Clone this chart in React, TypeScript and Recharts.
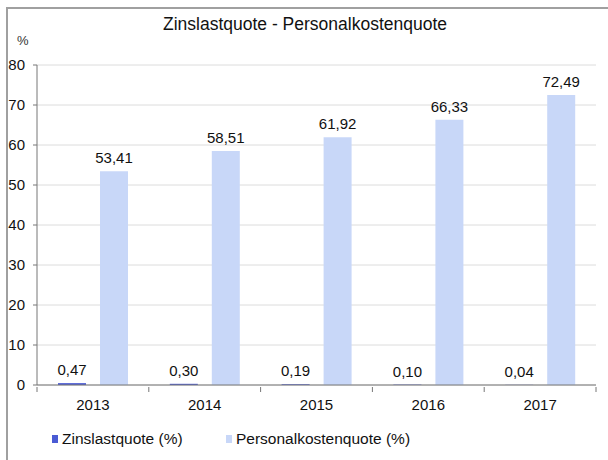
import { BarChart, Bar, XAxis, YAxis, CartesianGrid, Legend, LabelList } from "recharts"

const years = ["2013", "2014", "2015", "2016", "2017"]
const zinslastquote = [0.47, 0.3, 0.19, 0.1, 0.04]
const personalkostenquote = [53.41, 58.51, 61.92, 66.33, 72.49]
const yTicks = [0, 10, 20, 30, 40, 50, 60, 70, 80]

const data = years.map((year, i) => ({
  year,
  zins: zinslastquote[i],
  personal: personalkostenquote[i],
}))

const fmt = (v: number) => v.toFixed(2).replace(".", ",")

function YearTick(props: any) {
  const { x, y, payload, index, visibleTicksCount } = props
  const half = payload.offset ?? 55.8
  return (
    <g>
      <line x1={x - half} y1={y - 6} x2={x - half} y2={y - 1} stroke="#777" />
      {index === visibleTicksCount - 1 && (
        <line x1={x + half} y1={y - 6} x2={x + half} y2={y - 1} stroke="#777" />
      )}
      <text x={x} y={y + 6} dy="0.71em" textAnchor="middle" fontSize={15} fill="#111">
        {payload.value}
      </text>
    </g>
  )
}

// legend item x positions, keyed by series
const legendX: Record<string, number> = { zins: 52, personal: 226 }

function renderLegend(props: any) {
  const items = props.payload || []
  return (
    <div style={{ position: "relative", height: 20 }}>
      {items.map((item: any) => (
        <div
          key={item.value}
          style={{
            position: "absolute",
            left: legendX[item.dataKey] ?? 0,
            top: 0,
            display: "flex",
            alignItems: "center",
            fontSize: 15.5,
            color: "#111",
          }}
        >
          <span style={{ width: 6, height: 8, background: item.color, marginRight: 4, display: "inline-block" }} />
          {item.value}
        </div>
      ))}
    </div>
  )
}

export default function App() {
  return (
    <div
      style={{
        position: "absolute",
        left: 0,
        top: 0,
        width: 608,
        height: 460,
        background: "#fff",
        fontFamily: "'Liberation Sans', Arial, sans-serif",
      }}
    >
      <div
        style={{
          position: "absolute",
          left: 6,
          top: 7,
          width: 602,
          height: 453,
          borderLeft: "2px solid #a0a0a0",
          borderTop: "2px solid #a0a0a0",
        }}
      />
      <div
        style={{
          position: "absolute",
          left: 0,
          width: 610,
          top: 14,
          textAlign: "center",
          fontSize: 17.5,
          color: "#111",
        }}
      >
        Zinslastquote - Personalkostenquote
      </div>
      <div style={{ position: "absolute", left: 17, top: 33, fontSize: 13, color: "#333" }}>%</div>
      <BarChart
        width={608}
        height={460}
        data={data}
        margin={{ top: 65, right: 12, bottom: 10, left: 0 }}
        barGap={14}
        barSize={28}
        style={{ position: "absolute", left: 0, top: 0 }}
      >
        <CartesianGrid vertical={false} stroke="#dcdcdc" />
        <XAxis
          dataKey="year"
          height={45}
          axisLine={{ stroke: "#777" }}
          tickLine={false}
          tick={<YearTick />}
          interval={0}
        />
        <YAxis
          width={37}
          domain={[0, 80]}
          ticks={yTicks}
          interval={0}
          axisLine={{ stroke: "#777" }}
          tickLine={{ stroke: "#777" }}
          tickSize={4}
          tickMargin={8}
          tick={{ fontSize: 15, fill: "#111" }}
        />
        <Legend
          content={renderLegend}
          wrapperStyle={{ position: "absolute", left: 0, top: 430, width: 608 }}
        />
        <Bar dataKey="zins" name="Zinslastquote (%)" fill="#4a5bd4" isAnimationActive={false}>
          <LabelList dataKey="zins" position="top" offset={8} formatter={(v: any) => fmt(Number(v))} style={{ fontSize: 15, fill: "#111" }} />
        </Bar>
        <Bar dataKey="personal" name="Personalkostenquote (%)" fill="#c8d7f8" isAnimationActive={false}>
          <LabelList dataKey="personal" position="top" offset={8} formatter={(v: any) => fmt(Number(v))} style={{ fontSize: 15, fill: "#111" }} />
        </Bar>
      </BarChart>
    </div>
  )
}
